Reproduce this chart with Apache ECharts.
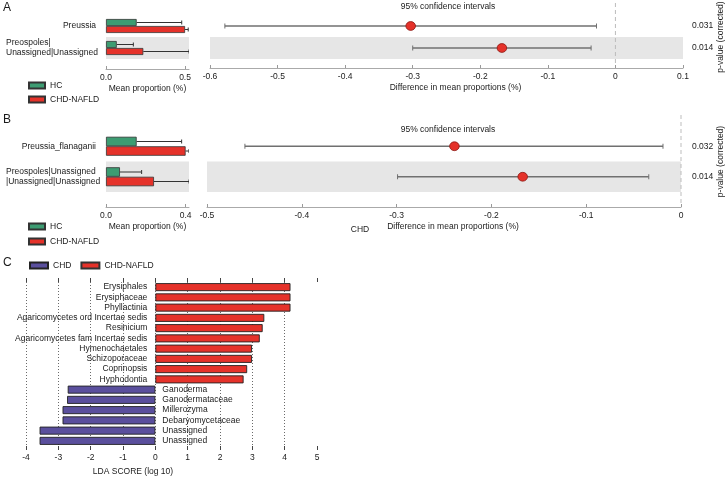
<!DOCTYPE html>
<html><head><meta charset="utf-8">
<script src="https://cdn.jsdelivr.net/npm/echarts@6.0.0/dist/echarts.min.js"></script>
<style>html,body{margin:0;padding:0;background:#fff}#c{width:728px;height:479px}</style>
</head><body><div id="c"></div>
<script>
// ---------- Panel A ----------
const aTaxa = ['Preussia', 'Preospoles|\nUnassigned|Unassigned'];
const aHC = [0.194, 0.068];
const aHCUpper = [0.479, 0.173];
const aNAFLD = [0.500, 0.236];
const aNAFLDUpper = [0.520, 0.525];
const aDiff = [-0.303, -0.168];
const aCILow = [-0.578, -0.300];
const aCIHigh = [-0.028, -0.036];
const aPValues = ['0.031', '0.014'];

// ---------- Panel B ----------
const bTaxa = ['Preussia_flanaganii', 'Preospoles|Unassigned\n|Unassigned|Unassigned'];
const bHC = [0.154, 0.070];
const bHCUpper = [0.380, 0.179];
const bNAFLD = [0.400, 0.241];
const bNAFLDUpper = [0.417, 0.417];
const bDiff = [-0.239, -0.167];
const bCILow = [-0.460, -0.299];
const bCIHigh = [-0.019, -0.034];
const bPValues = ['0.032', '0.014'];

// ---------- Panel C (LEfSe) ----------
const ldaTaxa = ['Erysiphales', 'Erysiphaceae', 'Phyllactinia', 'Agaricomycetes ord Incertae sedis',
  'Resinicium', 'Agaricomycetes fam Incertae sedis', 'Hymenochaetales', 'Schizoporaceae',
  'Coprinopsis', 'Hyphodontia', 'Ganoderma', 'Ganodermataceae', 'Millerozyma',
  'Debaryomycetaceae', 'Unassigned', 'Unassigned'];
const ldaScores = [4.18, 4.18, 4.18, 3.37, 3.32, 3.23, 2.99, 2.99, 2.84, 2.73,
  -2.71, -2.73, -2.87, -2.87, -3.58, -3.58];
const zeroRef = [0];

const FONT = 'Liberation Sans, Arial, Helvetica, sans-serif';
const GREEN = '#3d9c72', RED = '#e5322a', PURPLE = '#5a4f9d', BAND = '#e6e6e6';
const TXT = '#1a1a1a';
const FS = 8.5;

const chart = echarts.init(document.getElementById('c'), null, {renderer: 'canvas'});

function taxaLabel(v) {
  if (v.indexOf('\n') >= 0) return v.split('\n').map(s => '{l|' + s + '}').join('\n');
  return v;
}
function errSeries(name, xi, yi, vals, uppers, off) {
  return {
    type: 'custom', name: name, xAxisIndex: xi, yAxisIndex: yi, silent: true, z: 3, clip: true,
    data: vals.map((v, i) => [uppers[i], i, v]),
    encode: {x: [0, 2], y: 1},
    renderItem: function (params, api) {
      const cat = api.value(1);
      const p0 = api.coord([api.value(2), cat]);
      const p1 = api.coord([api.value(0), cat]);
      const y = p0[1] + off;
      return {type: 'group', children: [
        {type: 'line', shape: {x1: p0[0], y1: y, x2: p1[0], y2: y}, style: {stroke: '#333', lineWidth: 1}},
        {type: 'line', shape: {x1: p1[0], y1: y - 2, x2: p1[0], y2: y + 2}, style: {stroke: '#333', lineWidth: 1}}
      ]};
    }
  };
}
function ciSeries(xi, yi, lows, mids, highs) {
  return {
    type: 'custom', name: 'ci', xAxisIndex: xi, yAxisIndex: yi, silent: true, z: 4,
    data: mids.map((m, i) => [lows[i], m, highs[i], i]),
    encode: {x: [0, 1, 2], y: 3},
    renderItem: function (params, api) {
      const c = api.value(3);
      const lo = api.coord([api.value(0), c]);
      const mid = api.coord([api.value(1), c]);
      const hi = api.coord([api.value(2), c]);
      return {type: 'group', children: [
        {type: 'line', shape: {x1: lo[0], y1: lo[1], x2: hi[0], y2: hi[1]}, style: {stroke: '#707070', lineWidth: 1.5}},
        {type: 'line', shape: {x1: lo[0], y1: lo[1] - 2.5, x2: lo[0], y2: lo[1] + 2.5}, style: {stroke: '#707070', lineWidth: 1}},
        {type: 'line', shape: {x1: hi[0], y1: hi[1] - 2.5, x2: hi[0], y2: hi[1] + 2.5}, style: {stroke: '#707070', lineWidth: 1}},
        {type: 'ellipse', shape: {cx: mid[0], cy: mid[1], rx: 4.8, ry: 4.4}, style: {fill: RED, stroke: '#8c1c16', lineWidth: 0.8}}
      ]};
    }
  };
}
function zeroSeries(xi, yi, extTop, extBottom) {
  return {
    type: 'custom', name: 'zero', xAxisIndex: xi, yAxisIndex: yi, silent: true, z: 1, clip: false,
    data: zeroRef.map(v => [v, 0]),
    encode: {x: 0, y: 1},
    renderItem: function (params, api) {
      const x = api.coord([api.value(0), 0])[0];
      const cs = params.coordSys;
      return {type: 'line', shape: {x1: x, y1: cs.y - extTop, x2: x, y2: cs.y + cs.height + extBottom},
        style: {stroke: '#bdbdbd', lineWidth: 1, lineDash: [4, 3]}};
    }
  };
}
function propXAxis(gi, max, interval, offset) {
  return {
    type: 'value', gridIndex: gi, min: 0, max: max, interval: interval, position: 'bottom', offset: offset,
    axisLine: {show: true, lineStyle: {color: '#aaa'}},
    axisTick: {show: true, inside: true, length: 3, lineStyle: {color: '#999'}},
    axisLabel: {fontSize: FS, color: TXT, fontFamily: FONT, margin: 4, formatter: v => v.toFixed(1)},
    splitLine: {show: false},
    name: 'Mean proportion (%)', nameLocation: 'middle', nameGap: 15, nameMoveOverlap: false,
    nameTextStyle: {fontSize: FS, color: TXT, fontFamily: FONT}
  };
}
function diffXAxis(gi, min, max, offset) {
  return {
    type: 'value', gridIndex: gi, min: min, max: max, interval: 0.1, position: 'bottom', offset: offset,
    axisLine: {show: true, lineStyle: {color: '#aaa'}},
    axisTick: {show: true, inside: true, length: 3, lineStyle: {color: '#999'}},
    axisLabel: {fontSize: FS, color: TXT, fontFamily: FONT, margin: 4,
      formatter: v => (Math.abs(v) < 1e-9 ? '0' : v.toFixed(1))},
    splitLine: {show: false},
    name: 'Difference in mean proportions (%)', nameLocation: 'middle', nameGap: 15, nameMoveOverlap: false,
    nameTextStyle: {fontSize: FS, color: TXT, fontFamily: FONT, padding: [0, 0, 0, 18]}
  };
}
function taxaYAxis(gi, data) {
  return {
    type: 'category', gridIndex: gi, data: data, inverse: true,
    axisLine: {show: false}, axisTick: {show: false},
    axisLabel: {fontSize: FS, color: TXT, fontFamily: FONT, margin: 10, lineHeight: 10,
      formatter: taxaLabel,
      rich: {l: {width: 90, align: 'left', fontSize: FS, color: TXT, fontFamily: FONT, lineHeight: 10}}},
    splitArea: {show: true, areaStyle: {color: ['rgba(0,0,0,0)', BAND]}}
  };
}
function pYAxis(gi, data, margin, gap) {
  return {
    type: 'category', gridIndex: gi, data: data, inverse: true, position: 'right',
    axisLine: {show: false}, axisTick: {show: false},
    axisLabel: {fontSize: FS, color: TXT, fontFamily: FONT, margin: margin},
    splitArea: {show: true, areaStyle: {color: ['rgba(0,0,0,0)', BAND]}},
    name: 'p-value (corrected)', nameLocation: 'middle', nameRotate: 90, nameGap: gap, nameMoveOverlap: false,
    nameTextStyle: {fontSize: FS, color: TXT, fontFamily: FONT}
  };
}
function barSeries(name, xi, yi, data, color, bw) {
  return {type: 'bar', name: name, xAxisIndex: xi, yAxisIndex: yi, data: data, barWidth: bw, barGap: 0,
    itemStyle: {color: color, borderColor: '#333', borderWidth: 0.8}, silent: true, z: 2};
}

const BWA = 7, BWB = 9.5;
const gridBase = {outerBoundsMode: 'none', containLabel: false};

const option = {
  backgroundColor: '#fff',
  animation: false,
  textStyle: {fontFamily: FONT},
  title: [
    {text: 'A', left: 3, top: 2, padding: 0, textStyle: {fontSize: 12, fontWeight: 'normal', color: TXT, fontFamily: FONT}},
    {text: 'B', left: 3, top: 114, padding: 0, textStyle: {fontSize: 12, fontWeight: 'normal', color: TXT, fontFamily: FONT}},
    {text: 'C', left: 3, top: 257, padding: 0, textStyle: {fontSize: 12, fontWeight: 'normal', color: TXT, fontFamily: FONT}},
    {text: '95% confidence intervals', left: 448, top: 2, textAlign: 'center', padding: 0, textStyle: {fontSize: FS, fontWeight: 'normal', color: TXT, fontFamily: FONT}},
    {text: '95% confidence intervals', left: 448, top: 125, textAlign: 'center', padding: 0, textStyle: {fontSize: FS, fontWeight: 'normal', color: TXT, fontFamily: FONT}},
    {text: 'CHD', left: 360, top: 225, textAlign: 'center', padding: 0, textStyle: {fontSize: FS, fontWeight: 'normal', color: TXT, fontFamily: FONT}},
    {text: 'LDA SCORE (log 10)', left: 133, top: 467, textAlign: 'center', padding: 0, textStyle: {fontSize: FS, fontWeight: 'normal', color: TXT, fontFamily: FONT}}
  ],
  legend: [
    {data: ['HC', 'CHD-NAFLD'], orient: 'vertical', left: 28, top: 81, itemWidth: 16, itemHeight: 6, itemGap: 5,
      icon: 'rect', padding: 0, selectedMode: false, textStyle: {fontSize: FS, color: TXT, fontFamily: FONT}},
    {data: ['HC', 'CHD-NAFLD'], orient: 'vertical', left: 28, top: 222, itemWidth: 16, itemHeight: 6, itemGap: 6,
      icon: 'rect', padding: 0, selectedMode: false, textStyle: {fontSize: FS, color: TXT, fontFamily: FONT}},
    {data: ['CHD', 'CHD-NAFLD'], orient: 'horizontal', left: 29, top: 261, itemWidth: 18, itemHeight: 6, itemGap: 9,
      icon: 'rect', padding: 0, selectedMode: false, textStyle: {fontSize: FS, color: TXT, fontFamily: FONT}}
  ],
  grid: [
    Object.assign({left: 106, top: 15, width: 83, height: 44}, gridBase),
    Object.assign({left: 210, top: 15, width: 473, height: 44}, gridBase),
    Object.assign({left: 106, top: 131, width: 83, height: 61}, gridBase),
    Object.assign({left: 207, top: 131, width: 474, height: 61}, gridBase),
    Object.assign({left: 26, top: 282, width: 291, height: 164}, gridBase)
  ],
  xAxis: [
    propXAxis(0, 0.525, 0.5, 10),
    diffXAxis(1, -0.6, 0.1, 9),
    propXAxis(2, 0.417, 0.4, 15),
    diffXAxis(3, -0.5, 0, 15),
    {type: 'value', gridIndex: 4, min: -4, max: 5, interval: 1, position: 'bottom',
      axisLine: {show: false},
      axisTick: {show: true, length: 4, lineStyle: {color: '#444'}},
      axisLabel: {fontSize: FS, color: TXT, fontFamily: FONT, margin: 7},
      splitLine: {show: true, showMaxLine: false, lineStyle: {color: '#444', type: [1, 2], width: 0.8}}},
    {type: 'value', gridIndex: 4, min: -4, max: 5, interval: 1, position: 'top',
      axisLine: {show: false},
      axisTick: {show: true, length: 4, lineStyle: {color: '#444'}},
      axisLabel: {show: false}, splitLine: {show: false}}
  ],
  yAxis: [
    taxaYAxis(0, aTaxa),
    pYAxis(1, aPValues, 9, 33),
    taxaYAxis(2, bTaxa),
    pYAxis(3, bPValues, 11, 35),
    {type: 'category', gridIndex: 4, data: ldaTaxa, inverse: true, show: false}
  ],
  series: [
    barSeries('HC', 0, 0, aHC, GREEN, BWA),
    barSeries('CHD-NAFLD', 0, 0, aNAFLD, RED, BWA),
    errSeries('errA1', 0, 0, aHC, aHCUpper, -BWA / 2),
    errSeries('errA2', 0, 0, aNAFLD, aNAFLDUpper, BWA / 2),
    zeroSeries(1, 1, 12, 6),
    ciSeries(1, 1, aCILow, aDiff, aCIHigh),

    barSeries('HC', 2, 2, bHC, GREEN, BWB),
    barSeries('CHD-NAFLD', 2, 2, bNAFLD, RED, BWB),
    errSeries('errB1', 2, 2, bHC, bHCUpper, -BWB / 2),
    errSeries('errB2', 2, 2, bNAFLD, bNAFLDUpper, BWB / 2),
    zeroSeries(3, 3, 16, 13),
    ciSeries(3, 3, bCILow, bDiff, bCIHigh),

    {type: 'bar', name: 'CHD-NAFLD', xAxisIndex: 4, yAxisIndex: 4, barWidth: 8, barGap: '-100%', silent: true,
      data: ldaScores.map(v => (v > 0 ? v : '-')),
      itemStyle: {color: RED, borderColor: '#222', borderWidth: 0.9},
      label: {show: true, position: 'left', distance: 8, formatter: '{b}', fontSize: 8.5, color: TXT, fontFamily: FONT}},
    {type: 'bar', name: 'CHD', xAxisIndex: 4, yAxisIndex: 4, barWidth: 8, barGap: '-100%', silent: true,
      data: ldaScores.map(v => (v < 0 ? v : '-')),
      itemStyle: {color: PURPLE, borderColor: '#222', borderWidth: 0.9},
      label: {show: true, position: 'right', distance: 7, formatter: '{b}', fontSize: 8.5, color: TXT, fontFamily: FONT}}
  ]
};
chart.setOption(option);
</script>
</body></html>
